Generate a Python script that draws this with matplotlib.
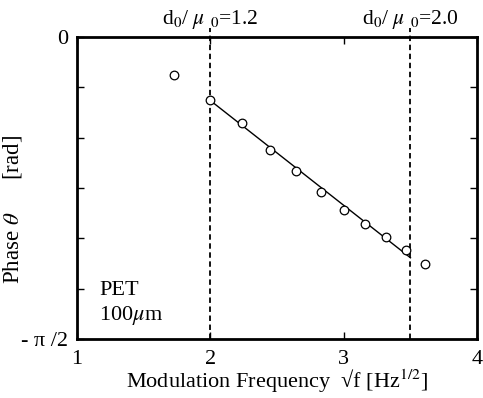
import numpy as np
import matplotlib.pyplot as plt

plt.rcParams['font.family'] = ['Liberation Serif', 'DejaVu Serif']
plt.rcParams['mathtext.fontset'] = 'stix'

# measured points: sqrt of modulation frequency vs phase (rad)
sqrt_f = [1.732, 2.0, 2.236, 2.449, 2.646, 2.828, 3.0, 3.162, 3.317, 3.464, 3.606]
phase = [-0.199, -0.328, -0.449, -0.588, -0.695, -0.805, -0.900, -0.974, -1.042, -1.108, -1.182]

# fitted line between the two thickness limits
fit_x = [2.0, 3.5]
fit_y = [-0.33, -1.148]

# d0/mu0 limits
limit_x = [2.0, 3.5]
limit_labels = [r'd$_{\rm 0}$/ $\mu$ $_{\rm 0}$=1.2', r'd$_{\rm 0}$/ $\mu$ $_{\rm 0}$=2.0']

fig = plt.figure(figsize=(4.83, 3.98), dpi=100)
ax = fig.add_axes([0.159, 0.148, 0.829, 0.759])

ax.plot(fit_x, fit_y, color='black', lw=1.0)
ax.plot(sqrt_f, phase, 'o', mfc='white', mec='black', ms=6.2, mew=0.9, zorder=3)

for xv, lab in zip(limit_x, limit_labels):
    ax.axvline(xv, ymin=0, ymax=1.03, color='black', ls=(0, (3, 2)), lw=1.3, clip_on=False)
    ax.text(xv, 0.03, lab, fontsize=15.5, ha='center', va='bottom')

ax.set_xlim(1, 4)
ax.set_ylim(-np.pi / 2, 0)
ax.set_xticks([1, 2, 3, 4])
ax.set_yticks([-np.pi / 2, 0])
ax.set_yticklabels(['- \u03c0 /2', '0'])
ax.set_yticks(np.arange(-np.pi / 2, 0, np.pi / 12)[1:], minor=True)
ax.tick_params(which='both', direction='in', top=True, right=True, labelsize=16)
ax.tick_params(axis='x', pad=8)
ax.tick_params(axis='y', pad=6)
ax.tick_params(which='major', length=5, width=1)
ax.tick_params(which='minor', length=5, width=1)
for sp in ax.spines.values():
    sp.set_linewidth(2)

ax.set_xlabel('Modulation Frequency  \u221af [Hz$^{1/2}$]', fontsize=16)
ax.xaxis.set_label_coords(0.5, -0.095)
ax.set_ylabel('Phase $\\theta$      [rad]', fontsize=16.5)
ax.yaxis.set_label_coords(-0.133, 0.43)

ax.text(1.17, -1.27, 'PET\n100$\\mu$m', fontsize=16, ha='left', va='top', linespacing=1.25)

fig.savefig('out.png', dpi=100)
